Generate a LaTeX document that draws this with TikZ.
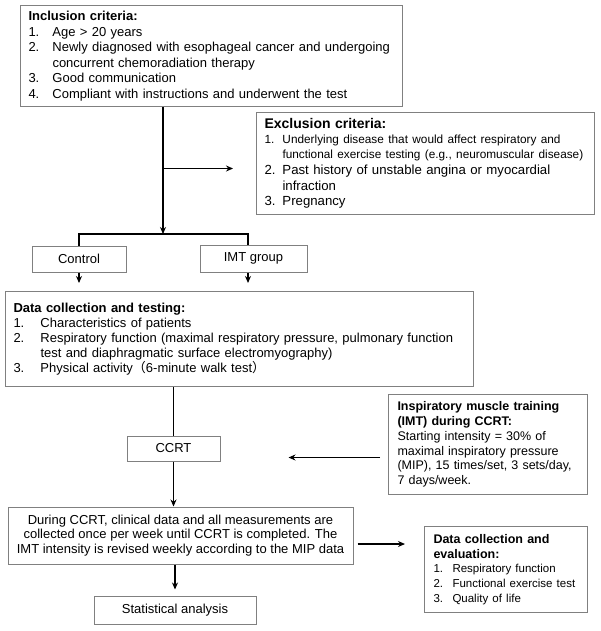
\documentclass[tikz,border=0pt]{standalone}
\usepackage{fontspec}
\setmainfont{Liberation Sans}
\newfontfamily\cjk{Noto Sans CJK SC}
\usetikzlibrary{arrows.meta, calc}

\definecolor{boxgray}{RGB}{128,128,128}

\newcommand{\fs}[2]{\fontsize{#1}{#2}\selectfont}
\newcommand{\nl}{\hfil\break}
\newcommand{\critem}[3]{\par\noindent\hangindent=#1\hangafter=1\hbox to #1{#2\hfil}#3}

\tikzset{
  box/.style={draw=boxgray, line width=1pt, anchor=north west, inner xsep=8pt, inner ysep=2pt, align=left},
  plainbox/.style={draw=boxgray, line width=1pt, inner sep=0pt, align=center, font=\fs{13}{15}},
  flow/.style={line width=1.7pt, draw=black},
  arr/.style={flow, -{Stealth[length=7pt, width=6pt]}},
}

\begin{document}
\begin{tikzpicture}[x=1pt, y=-1pt]
    \useasboundingbox (0,0) rectangle (600,631);

    % Boxes
    \node[box, text width=366pt, minimum width=382pt, minimum height=101pt, font=\fs{13}{15.5}] (incl) at (20,5)
        {\textbf{Inclusion criteria:}
         \critem{24pt}{1.}{Age > 20 years}
         \critem{24pt}{2.}{Newly diagnosed with esophageal cancer and undergoing\nl concurrent chemoradiation therapy}
         \critem{24pt}{3.}{Good communication}
         \critem{24pt}{4.}{Compliant with instructions and underwent the test}};
    \node[box, text width=322pt, minimum width=338pt, minimum height=102pt, font=\fs{13.2}{15.8}] (excl) at (256,112)
        {\textbf{\fs{14}{15.5}Exclusion criteria:}
         {\fs{11.8}{15}\critem{18pt}{1.}{Underlying disease that would affect respiratory and\nl functional exercise testing (e.g., neuromuscular disease)}\par}
         \critem{18pt}{2.}{Past history of unstable angina or myocardial\nl infraction}
         \critem{18pt}{3.}{Pregnancy}};
    \node[plainbox, minimum width=94pt, minimum height=26pt] (ctrl) at (79,259) {Control};
    \node[plainbox, minimum width=107pt, minimum height=27pt] (imtg) at (253.5,258.5) {IMT group};
    \node[box, text width=452pt, minimum width=468pt, minimum height=95pt, font=\fs{13}{15}] (data) at (5,291)
        {\textbf{Data collection and testing:}
         \critem{27pt}{1.}{Characteristics of patients}
         \critem{27pt}{2.}{Respiratory function (maximal respiratory pressure, pulmonary function\nl test and diaphragmatic surface electromyography)}
         \critem{27pt}{3.}{Physical activity{\cjk （}6-minute walk test{\cjk ）}}};
    \node[plainbox, minimum width=93pt, minimum height=25pt] (ccrt) at (173.5,448.5) {CCRT};
    \node[box, inner xsep=9pt, text width=181pt, minimum width=199pt, minimum height=100pt, font=\fs{12.5}{14.8}] (imtt) at (388,394)
        {\textbf{Inspiratory muscle training}\\\textbf{(IMT) during CCRT:}\\Starting intensity = 30\% of\\maximal inspiratory pressure\\(MIP), 15 times/set, 3 sets/day,\\7 days/week.};
    \node[plainbox, minimum width=345pt, minimum height=57pt, font=\fs{13}{14.5}] (during) at (180.5,535.5)
        {During CCRT, clinical data and all measurements are\\collected once per week until CCRT is completed. The\\IMT intensity is revised weekly according to the MIP data};
    \node[box, inner xsep=9pt, text width=145pt, minimum width=163pt, minimum height=86pt, font=\fs{12.5}{14.8}] (eval) at (424,526)
        {\textbf{Data collection and}\\\textbf{evaluation:}
         {\fs{11.5}{14.8}\critem{19pt}{1.}{Respiratory function}
         \critem{19pt}{2.}{Functional exercise test}
         \critem{19pt}{3.}{Quality of life}\par}};
    \node[plainbox, minimum width=162pt, minimum height=28pt] (stat) at (175,610) {Statistical analysis};

    % Connectors
    \coordinate (split) at (163,234);
    \draw[arr] (split |- incl.south) -- (split);
    \draw[arr, shorten >=23pt] (split |- excl.west) ++(0,5) -- ([yshift=-5pt]excl.west);
    \draw[flow] (ctrl.north) |- ([xshift=-5.5pt]imtg.north |- split) -- ([xshift=-5.5pt]imtg.north);
    \draw[arr, shorten >=8pt] (ctrl.south) -- (ctrl.south |- data.north);
    \draw[arr, shorten >=8pt] ([xshift=-5.5pt]imtg.south) -- ([xshift=-5.5pt]imtg.south |- data.north);
    \draw[flow] (ccrt.north |- data.south) -- (ccrt.north);
    \draw[arr] (ccrt.south) -- (ccrt.south |- during.north);
    \draw[arr, shorten <=8pt, shorten >=68pt] ([yshift=-13pt]imtt.west) -- ([yshift=-13pt]imtt.west -| ccrt.east);
    \draw[arr, shorten >=6pt] (stat.north |- during.south) -- (stat.north);
    \draw[arr, shorten <=4pt, shorten >=19pt] ([yshift=-8.5pt]during.east) -- ([yshift=-8.5pt]during.east -| eval.west);
\end{tikzpicture}
\end{document}
